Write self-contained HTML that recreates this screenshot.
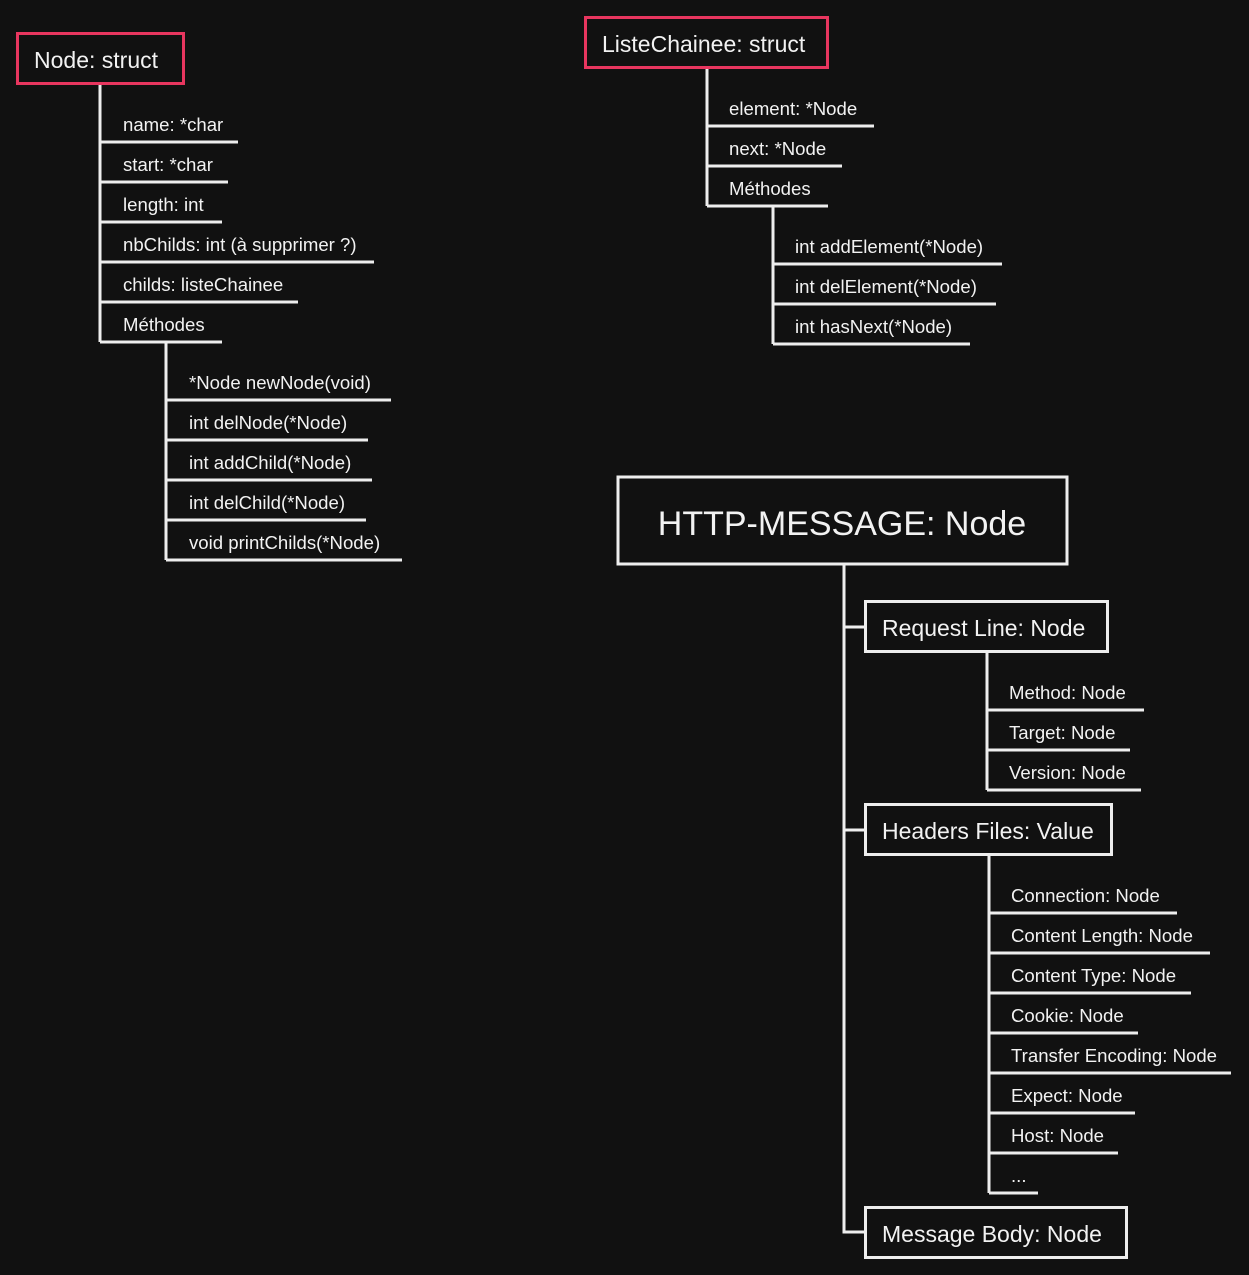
<!DOCTYPE html>
<html><head><meta charset="utf-8"><style>
html,body{margin:0;padding:0;background:#111;}
svg{display:block}
text{font-family:"Liberation Sans",sans-serif;fill:#f2f2f2;}
.s{font-size:18.6px}
.m{font-size:23px}
</style></head><body>
<svg width="1249" height="1275" viewBox="0 0 1249 1275" xmlns="http://www.w3.org/2000/svg">
<rect width="1249" height="1275" fill="#111"/>
<g stroke="#eeeeee" stroke-width="3" fill="none">
<path d="M100 84V342"/>
<path d="M100 142H238M100 182H228M100 222H222M100 262H374M100 302H298M100 342H222"/>
<path d="M166 342V560"/>
<path d="M166 400H391M166 440H368M166 480H372M166 520H366M166 560H402"/>
<path d="M707 68V206"/>
<path d="M707 126H874M707 166H842M707 206H828"/>
<path d="M773 206V344"/>
<path d="M773 264H1002M773 304H996M773 344H970"/>
<rect x="618" y="477" width="449" height="87"/>
<path d="M844 565V1232H866M844 627H866M844 830H866"/>
<rect x="865.5" y="601.5" width="242" height="50"/>
<path d="M987 652V790M987 710H1144M987 750H1130M987 790H1141"/>
<rect x="865.5" y="804.5" width="246" height="50"/>
<path d="M989 855V1193M989 913H1177M989 953H1210M989 993H1191M989 1033H1138M989 1073H1231M989 1113H1135M989 1153H1118M989 1193H1038"/>
<rect x="865.5" y="1207.5" width="261" height="50"/>
</g>
<g stroke="#e8365f" stroke-width="3" fill="none">
<rect x="17.5" y="33.5" width="166" height="50"/>
<rect x="585.5" y="17.5" width="242" height="50"/>
</g>
<text class="m" x="34" y="68">Node: struct</text>
<text class="m" x="602" y="52">ListeChainee: struct</text>
<g class="s">
<text x="123" y="131">name: *char</text>
<text x="123" y="171">start: *char</text>
<text x="123" y="211">length: int</text>
<text x="123" y="251">nbChilds: int (à supprimer ?)</text>
<text x="123" y="291">childs: listeChainee</text>
<text x="123" y="331">Méthodes</text>
<text x="189" y="389">*Node newNode(void)</text>
<text x="189" y="429">int delNode(*Node)</text>
<text x="189" y="469">int addChild(*Node)</text>
<text x="189" y="509">int delChild(*Node)</text>
<text x="189" y="549">void printChilds(*Node)</text>
<text x="729" y="115">element: *Node</text>
<text x="729" y="155">next: *Node</text>
<text x="729" y="195">Méthodes</text>
<text x="795" y="253">int addElement(*Node)</text>
<text x="795" y="293">int delElement(*Node)</text>
<text x="795" y="333">int hasNext(*Node)</text>
<text x="1009" y="699">Method: Node</text>
<text x="1009" y="739">Target: Node</text>
<text x="1009" y="779">Version: Node</text>
<text x="1011" y="902">Connection: Node</text>
<text x="1011" y="942">Content Length: Node</text>
<text x="1011" y="982">Content Type: Node</text>
<text x="1011" y="1022">Cookie: Node</text>
<text x="1011" y="1062">Transfer Encoding: Node</text>
<text x="1011" y="1102">Expect: Node</text>
<text x="1011" y="1142">Host: Node</text>
<text x="1011" y="1182">...</text>
</g>
<text x="842" y="535" text-anchor="middle" style="font-size:34px">HTTP-MESSAGE: Node</text>
<text class="m" x="882" y="636">Request Line: Node</text>
<text class="m" x="882" y="839">Headers Files: Value</text>
<text class="m" x="882" y="1242">Message Body: Node</text>
</svg>
</body></html>
